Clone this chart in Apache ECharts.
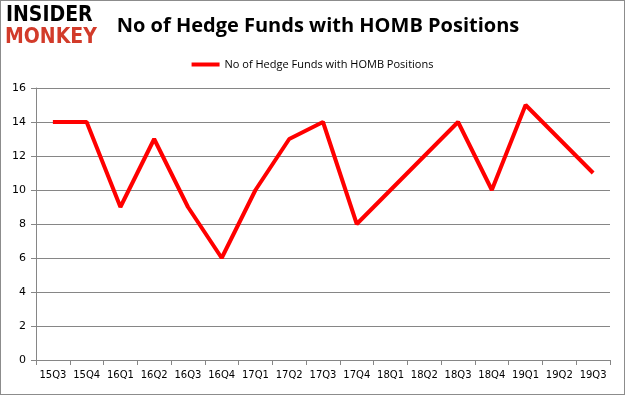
<!DOCTYPE html>
<html><head><meta charset="utf-8">
<script src="https://cdn.jsdelivr.net/npm/echarts@6/dist/echarts.min.js"></script>
<style>html,body{margin:0;padding:0;background:#fff}#c{width:625px;height:395px;box-sizing:border-box;border:1px solid #8c8c8c}</style>
</head><body><div id="c"></div>
<script>
const categories = ['15Q3','15Q4','16Q1','16Q2','16Q3','16Q4','17Q1','17Q2','17Q3','17Q4','18Q1','18Q2','18Q3','18Q4','19Q1','19Q2','19Q3'];
const values = [14,14,9,13,9,6,10,13,14,8,10,12,14,10,15,13,11];
const yTicks = {min:0, max:16, interval:2};
const seriesName = 'No of Hedge Funds with HOMB Positions';
const chart = echarts.init(document.getElementById('c'), null, {renderer:'canvas'});
chart.setOption({
  animation:false,
  title:{text:'No of Hedge Funds with HOMB Positions', left:312, top:10, textAlign:'center',
    textStyle:{fontFamily:'Open Sans', fontWeight:'bold', fontSize:20, color:'#000'}},
  legend:{top:53, left:'center', itemWidth:28, itemHeight:4, itemGap:4, icon:'rect',
    textStyle:{fontFamily:'Open Sans', fontSize:11, color:'#000'},
    data:[seriesName]},
  graphic:[
    {type:'text', left:5, top:4, style:{text:'INSIDER', fontFamily:'DejaVu Sans Condensed', fontWeight:'bold', fontSize:21, fill:'#000'}},
    {type:'text', left:4, top:26, style:{text:'MONKEY', fontFamily:'DejaVu Sans Condensed', fontWeight:'bold', fontSize:21, fill:'#d23b2a'}}
  ],
  grid:{left:35, right:14, top:87, bottom:34},
  xAxis:{type:'category', data:categories, boundaryGap:true,
    axisLine:{lineStyle:{color:'#868686'}},
    axisTick:{show:true, length:5, lineStyle:{color:'#868686'}},
    axisLabel:{color:'#000', fontFamily:'DejaVu Sans', fontSize:10, margin:10, interval:0}},
  yAxis:{type:'value', min:yTicks.min, max:yTicks.max, interval:yTicks.interval,
    axisLine:{show:true, lineStyle:{color:'#868686'}},
    axisTick:{show:true, length:5, lineStyle:{color:'#868686'}},
    splitLine:{lineStyle:{color:'#868686'}},
    axisLabel:{color:'#000', fontFamily:'DejaVu Sans', fontSize:11, margin:10}},
  series:[{name:seriesName, type:'line', data:values, symbol:'none',
    lineStyle:{color:'#ff0000', width:4}, itemStyle:{color:'#ff0000'}}]
});
</script></body></html>
